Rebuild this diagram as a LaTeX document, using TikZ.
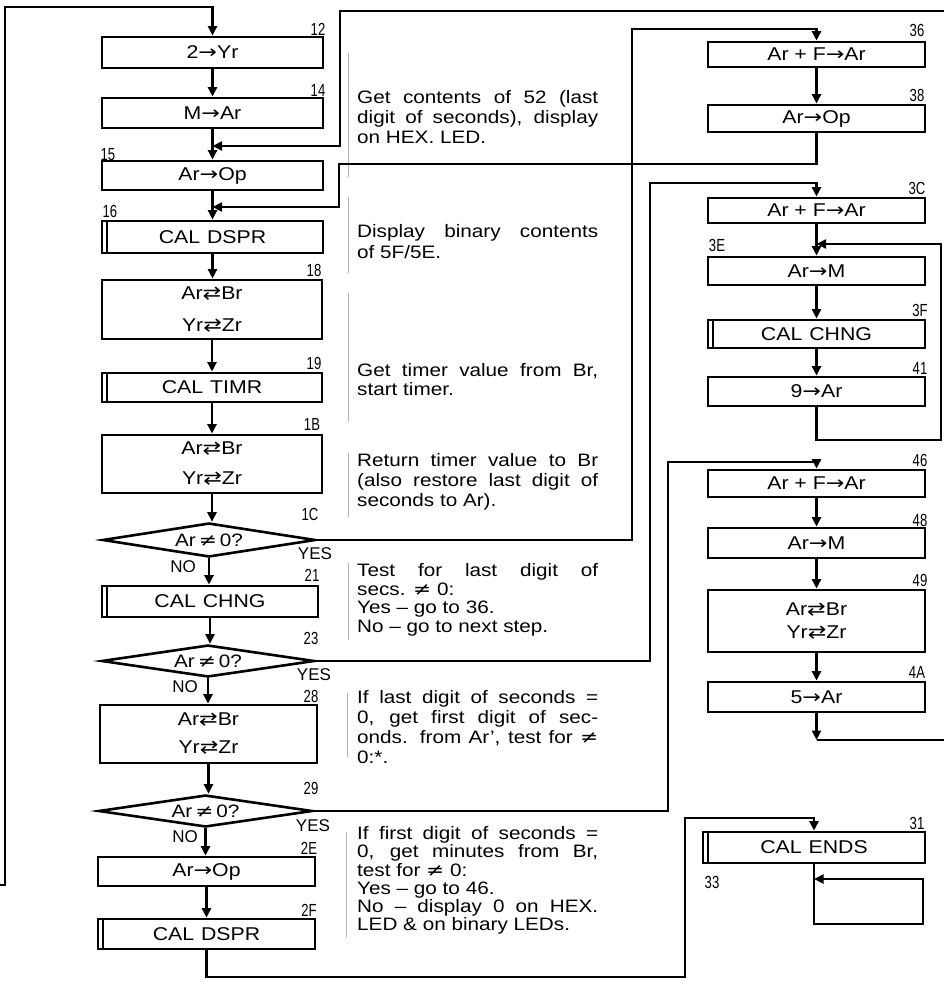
\documentclass[tikz,border=0pt]{standalone}
\usepackage{fontspec}
\setmainfont[FakeStretch=1.15]{Liberation Sans}
\newfontfamily\dvf[FakeStretch=1.2]{DejaVu Sans}
\newfontfamily\numf[FakeStretch=0.75]{Liberation Sans}
\newfontfamily\ynf{Liberation Sans}
\usetikzlibrary{shapes.geometric,arrows.meta}
\setlength{\parindent}{0pt}
\newcommand\rarr{{\dvf →}}
\newcommand\xch{{\dvf ⇄}}
\newcommand\nesign{{\dvf ≠}}
\begin{document}
\begin{tikzpicture}[x=1pt,y=-1pt,
  box/.style={draw, line width=2.8pt, minimum width=217pt, inner sep=0pt, align=center, font=\fontsize{18.5}{20}\selectfont},
  dia/.style={draw, diamond, aspect=6.4, line width=2.6pt, inner sep=0pt, minimum width=213pt, minimum height=34pt, font=\fontsize{18}{20}\selectfont},
  num/.style={inner sep=0pt, font=\numf\fontsize{17.5}{17.5}\selectfont},
  yn/.style={inner sep=0pt, font=\ynf\fontsize{17}{17}\selectfont},
  ann/.style={anchor=north west, inner sep=0pt, text width=241pt, align=justify},
  arr/.style={line width=2.5pt, -{Triangle[length=9.5pt,width=9pt]}},
  link/.style={line width=2.5pt},
  sep/.style={line width=0.7pt, gray!60},
]
\fill[white] (0,0) rectangle (944,985);
\useasboundingbox (0,0) rectangle (944,985);

% ---------- left column ----------
\node[box, minimum width=221pt, minimum height=31pt] (b12) at (212.5,52.5) {2\rarr Yr};
\node[box, minimum width=221pt, minimum height=30pt] (b14) at (212.5,113) {M\rarr Ar};
\node[box, minimum width=221pt, minimum height=29pt] (b15) at (212.5,175.5) {Ar\rarr Op};
\node[box, minimum width=221pt, minimum height=32pt] (b16) at (212.5,237) {CAL\hspace{7pt}DSPR};
\node[box, minimum width=220pt, minimum height=59pt, font=\fontsize{18.5}{32}\selectfont] (b18) at (212,309.5) {Ar\xch Br\\Yr\xch Zr};
\node[box, minimum width=220pt, minimum height=29pt] (b19) at (212,387.5) {CAL\hspace{7pt}TIMR};
\node[box, minimum width=220pt, minimum height=58pt, font=\fontsize{18.5}{30}\selectfont] (b1B) at (212,464) {Ar\xch Br\\Yr\xch Zr};
\node[dia] (d1C) at (209,540) {Ar\,\nesign\,0?};
\node[box, minimum width=216pt, minimum height=31pt] (b21) at (210,601.5) {CAL\hspace{7pt}CHNG};
\node[dia, minimum height=32pt] (d23) at (208,661) {Ar\,\nesign\,0?};
\node[box, minimum width=217pt, minimum height=58pt, font=\fontsize{18.5}{28}\selectfont] (b28) at (208.5,734) {Ar\xch Br\\Yr\xch Zr};
\node[dia, minimum width=214pt, minimum height=32pt] (d29) at (205.5,811) {Ar\,\nesign\,0?};
\node[box, minimum height=29pt] (b2E) at (206.5,871.5) {Ar\rarr Op};
\node[box, minimum height=30pt] (b2F) at (206.5,934) {CAL\hspace{7pt}DSPR};

% ---------- right column ----------
\node[box, minimum height=25pt] (b36) at (816.5,54.5) {Ar + F\rarr Ar};
\node[box, minimum height=27pt] (b38) at (816.5,118.5) {Ar\rarr Op};
\node[box, minimum height=25pt] (b3C) at (816.5,210.5) {Ar + F\rarr Ar};
\node[box, minimum height=28pt] (b3E) at (816.5,271) {Ar\rarr M};
\node[box, minimum height=28pt] (b3F) at (816.5,334) {CAL\hspace{7pt}CHNG};
\node[box, minimum height=29pt] (b41) at (816.5,391.5) {9\rarr Ar};
\node[box, minimum height=27pt] (b46) at (816.5,483.5) {Ar + F\rarr Ar};
\node[box, minimum height=30pt] (b48) at (816.5,543) {Ar\rarr M};
\node[box, minimum height=62pt, font=\fontsize{18.5}{23}\selectfont] (b49) at (816.5,621) {Ar\xch Br\\Yr\xch Zr};
\node[box, minimum height=30pt] (b4A) at (816.5,697) {5\rarr Ar};
\node[box, minimum width=222pt, minimum height=31pt] (b31) at (814,847.5) {CAL\hspace{7pt}ENDS};

\foreach \n in {b16,b19,b21,b2F,b3F,b31}
  \draw[line width=1.6pt] ([xshift=6.5pt,yshift=-1.4pt]\n.north west) -- ([xshift=6.5pt,yshift=1.4pt]\n.south west);

% ---------- step numbers ----------
\node[num] (l12) at (318,29) {12};
\node[num] (l14) at (318,90) {14};
\node[num] (l15) at (108,155) {15};
\node[num] (l16) at (110,211) {16};
\node[num] (l18) at (314,270) {18};
\node[num] (l19) at (314,363) {19};
\node[num] (l1B) at (312,424) {1B};
\node[num] (l1C) at (310,514) {1C};
\node[num] (l21) at (312,575) {21};
\node[num] (l23) at (311,638) {23};
\node[num] (l28) at (311,696) {28};
\node[num] (l29) at (311,788) {29};
\node[num] (l2E) at (309,848) {2E};
\node[num] (l2F) at (309,910) {2F};
\node[num] (l36) at (917,30) {36};
\node[num] (l38) at (917,95) {38};
\node[num] (l3C) at (917,188) {3C};
\node[num] (l3E) at (717,245) {3E};
\node[num] (l3F) at (920,310) {3F};
\node[num] (l41) at (920,368) {41};
\node[num] (l46) at (920,460) {46};
\node[num] (l48) at (920,520) {48};
\node[num] (l49) at (920,580) {49};
\node[num] (l4A) at (917,672) {4A};
\node[num] (l31) at (917,823) {31};
\node[num] (l33) at (712,882) {33};

\node[yn] (y1) at (315,554) {YES};
\node[yn] (n1) at (183,567) {NO};
\node[yn] (y2) at (314,675) {YES};
\node[yn] (n2) at (185,687) {NO};
\node[yn] (y3) at (313,826) {YES};
\node[yn] (n3) at (185,837) {NO};

% ---------- annotations ----------
\node[ann, font=\fontsize{18}{20}\selectfont] (t1) at (357,89.5) {\rule{0pt}{14pt}Get contents of 52 (last\linebreak digit of seconds), display\linebreak on HEX. LED.};
\node[ann, font=\fontsize{18}{21}\selectfont] (t2) at (357,223.5) {\rule{0pt}{14pt}Display binary contents\linebreak of 5F/5E.};
\node[ann, font=\fontsize{18}{18.5}\selectfont] (t3) at (357,362.5) {\rule{0pt}{14pt}Get timer value from Br,\linebreak start timer.};
\node[ann, font=\fontsize{18}{20}\selectfont] (t4) at (357,452.5) {\rule{0pt}{14pt}Return timer value to Br\linebreak (also restore last digit of\linebreak seconds to Ar).};
\node[ann, font=\fontsize{18}{18.5}\selectfont] (t5) at (357,562.5) {\rule{0pt}{14pt}Test for last digit of\linebreak secs. \nesign\ 0:\newline Yes – go to 36.\newline No – go to next step.};
\node[ann, font=\fontsize{18}{20}\selectfont] (t6) at (357,689.5) {\rule{0pt}{14pt}If last digit of seconds =\linebreak 0, get first digit of sec-\linebreak onds. from Ar’, test for \nesign\linebreak 0:*.};
\node[ann, font=\fontsize{18}{18.2}\selectfont] (t7) at (357,825.5) {\rule{0pt}{14pt}If first digit of seconds =\linebreak 0, get minutes from Br,\linebreak test for \nesign\ 0:\newline Yes – go to 46.\newline No – display 0 on HEX.\linebreak LED \& on binary LEDs.};

\draw[sep] (348,53) -- (348,177);
\draw[sep] (348,197) -- (348,273);
\draw[sep] (348,293) -- (348,422);
\draw[sep] (348,453) -- (348,517);
\draw[sep] (348,563) -- (348,640);
\draw[sep] (347,693) -- (347,757);
\draw[sep] (346,832) -- (346,937);

% ---------- straight flow ----------
\draw[arr] (b12) -- (b12 |- b14.north);
\draw[arr] (b14) -- (b14 |- b15.north);
\draw[arr] (b15) -- (b15 |- b16.north);
\draw[arr] (b16) -- (b16 |- b18.north);
\draw[arr] (b18) -- (b18 |- b19.north);
\draw[arr] (b19) -- (b19 |- b1B.north);
\draw[arr] (b1B) -- (b1B |- d1C.north);
\draw[arr] (d1C) -- (d1C |- b21.north);
\draw[arr] (b21) -- (b21 |- d23.north);
\draw[arr] (d23) -- (d23 |- b28.north);
\draw[arr] (b28) -- (b28 |- d29.north);
\draw[arr] (d29) -- (d29 |- b2E.north);
\draw[arr] (b2E) -- (b2E |- b2F.north);

\draw[arr] (b36) -- (b38);
\draw[arr] (b3C) -- (b3E);
\draw[arr] (b3E) -- (b3F);
\draw[arr] (b3F) -- (b41);
\draw[arr] (b46) -- (b48);
\draw[arr] (b48) -- (b49);
\draw[arr] (b49) -- (b4A);

% ---------- loops and branches ----------
\coordinate (lin) at (0,885);
\coordinate (k6) at (5,7);
\draw[arr] (lin) -| (k6) -| (b12.north);

\coordinate (topR) at (944,11);
\coordinate (k5) at (340,146);
\coordinate (j15) at (212.5,146);
\draw[arr] (topR) -| (k5) -- (j15);

\coordinate (k4) at (339,164);
\coordinate (j16) at (212.5,207);
\draw[arr] (b38.south) |- (k4) |- (j16);

\coordinate (k1) at (632,29);
\draw[arr] (d1C.east) -| (k1) -| (b36.north);

\coordinate (k2) at (650,183);
\draw[arr] (d23.east) -| (k2) -| (b3C.north);

\coordinate (k3) at (668,462);
\draw[arr] (d29.east) -| (k3) -| (b46.north);

\coordinate (k7) at (941,440);
\coordinate (j3E) at (816.5,244);
\draw[arr] (b41.south) |- (k7) |- (j3E);

\coordinate (k8) at (816.5,740);
\coordinate (rout) at (944,740);
\draw[arr] (b4A.south) -- (k8);
\draw[link] (k8) -- (rout);

\coordinate (k9) at (685,977);
\coordinate (k10) at (685,818);
\draw[arr] (b2F.south) |- (k9) -- (k10) -| (b31.north);

\coordinate (k11) at (923,924);
\coordinate (j33) at (814,879);
\draw[arr] (b31.south) |- (k11) |- (j33);
\end{tikzpicture}
\end{document}
